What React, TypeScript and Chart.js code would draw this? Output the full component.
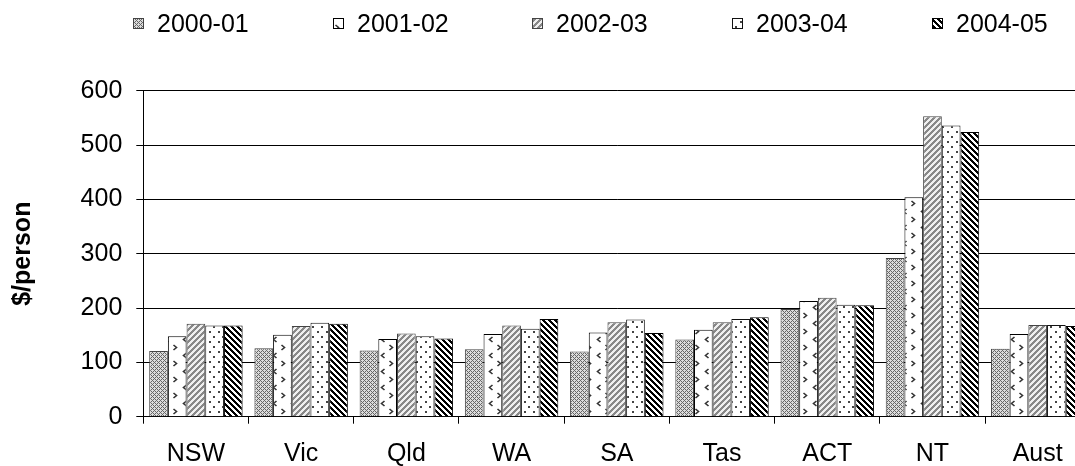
import React, { useEffect, useRef } from "react";
import { Chart, registerables } from "chart.js";

Chart.register(...registerables);

const categories = ["NSW", "Vic", "Qld", "WA", "SA", "Tas", "ACT", "NT", "Aust"];
const seriesLabels = ["2000-01", "2001-02", "2002-03", "2003-04", "2004-05"];
const s2000 = [121, 126, 122, 124, 120, 142, 198, 292, 125];
const s2001 = [148, 151, 143, 152, 155, 160, 213, 404, 152];
const s2002 = [171, 167, 153, 168, 174, 174, 219, 553, 169];
const s2003 = [168, 173, 148, 162, 179, 180, 206, 536, 169];
const s2004 = [168, 171, 144, 180, 154, 183, 205, 524, 167];
const yTicks = [0, 100, 200, 300, 400, 500, 600];

const FONT = '"Liberation Sans", Arial, sans-serif';

function makePattern(
  w: number,
  h: number,
  draw: (g: CanvasRenderingContext2D) => void
): CanvasPattern | string {
  const c = document.createElement("canvas");
  c.width = w;
  c.height = h;
  const g = c.getContext("2d")!;
  draw(g);
  const p = g.createPattern(c, "repeat");
  return p || "#ccc";
}

function buildPatterns() {
  const p1 = makePattern(4, 4, (g) => {
    g.fillStyle = "#dcdcdc";
    g.fillRect(0, 0, 4, 4);
    g.fillStyle = "#666";
    for (let x = 0; x < 4; x++)
      for (let y = 0; y < 4; y++) {
        if ((x + y) % 4 === 0 || ((x - y) % 4 + 4) % 4 === 0) g.fillRect(x, y, 1, 1);
      }
  });
  const p2 = makePattern(18, 16, (g) => {
    g.fillStyle = "#ffffff";
    g.fillRect(0, 0, 18, 16);
    g.strokeStyle = "#333";
    g.lineWidth = 1.6;
    g.beginPath();
    g.moveTo(6.5, 1);
    g.lineTo(3.5, 3.5);
    g.lineTo(6.5, 6);
    g.stroke();
    g.beginPath();
    g.moveTo(11.5, 9);
    g.lineTo(14.5, 11.5);
    g.lineTo(11.5, 14);
    g.stroke();
  });
  const p3 = makePattern(6, 6, (g) => {
    g.fillStyle = "#efefef";
    g.fillRect(0, 0, 6, 6);
    g.fillStyle = "#888";
    for (let x = 0; x < 6; x++)
      for (let y = 0; y < 6; y++) {
        if ((x + y) % 6 < 3) g.fillRect(x, y, 1, 1);
      }
  });
  const p4 = makePattern(9, 10, (g) => {
    g.fillStyle = "#ffffff";
    g.fillRect(0, 0, 9, 10);
    g.fillStyle = "#444";
    g.fillRect(2, 1, 2, 2);
    g.fillRect(6, 6, 2, 2);
  });
  const p5 = makePattern(6, 6, (g) => {
    g.fillStyle = "#ffffff";
    g.fillRect(0, 0, 6, 6);
    g.fillStyle = "#000";
    for (let x = 0; x < 6; x++)
      for (let y = 0; y < 6; y++) {
        if ((((x - y) % 6) + 6) % 6 < 3) g.fillRect(x, y, 1, 1);
      }
  });
  return [p1, p2, p3, p4, p5];
}

const borderColors = ["#444", "#000", "#444", "#111", "#000"];

const LEGEND_X0 = 133;
const LEGEND_STEP = 199.7;

const legendPlugin = {
  id: "patternLegend",
  afterDraw(chart: any) {
    const ctx = chart.ctx as CanvasRenderingContext2D;
    ctx.save();
    ctx.font = `25px ${FONT}`;
    ctx.textBaseline = "middle";
    ctx.textAlign = "left";
    chart.data.datasets.forEach((ds: any, i: number) => {
      const x = Math.round(LEGEND_X0 + i * LEGEND_STEP);
      ctx.fillStyle = ds.backgroundColor;
      ctx.fillRect(x, 18, 11, 11);
      ctx.strokeStyle = ds.borderColor;
      ctx.lineWidth = 1;
      ctx.strokeRect(x + 0.5, 18.5, 10, 10);
      ctx.fillStyle = "#000";
      ctx.fillText(ds.label, x + 24, 25);
    });
    ctx.restore();
  },
};

export default function App() {
  const ref = useRef<HTMLCanvasElement | null>(null);

  useEffect(() => {
    if (!ref.current) return;
    const patterns = buildPatterns();
    const seriesData = [s2000, s2001, s2002, s2003, s2004];
    const chart = new Chart(ref.current, {
      type: "bar",
      data: {
        labels: categories,
        datasets: seriesData.map((d, i) => ({
          label: seriesLabels[i],
          data: d,
          backgroundColor: patterns[i] as any,
          borderColor: borderColors[i],
          borderWidth: 1,
          categoryPercentage: 0.888,
          barPercentage: 1.0,
        })),
      },
      options: {
        responsive: false,
        animation: false,
        devicePixelRatio: 1,
        layout: { padding: { top: 90.7, right: 9.7, left: 0, bottom: 0 } },
        plugins: {
          legend: { display: false },
          tooltip: { enabled: false },
        },
        scales: {
          x: {
            grid: {
              display: true,
              drawOnChartArea: false,
              drawTicks: true,
              tickLength: 7,
              offset: true,
              color: "#000",
            },
            border: { display: true, color: "#000", width: 1 },
            ticks: {
              color: "#000",
              font: { family: FONT, size: 25 },
              padding: 15,
              maxRotation: 0,
              autoSkip: false,
            },
            afterFit: (scale: any) => {
              scale.height = 49.3;
            },
          },
          y: {
            min: 0,
            max: 600,
            afterBuildTicks: (scale: any) => {
              scale.ticks = yTicks.map((v) => ({ value: v }));
            },
            grid: {
              color: "#000",
              drawTicks: true,
              tickLength: 7,
              lineWidth: 1,
            },
            border: { display: true, color: "#000", width: 1 },
            ticks: {
              color: "#000",
              font: { family: FONT, size: 25 },
              padding: 14,
            },
            title: {
              display: true,
              text: "$/person",
              color: "#000",
              font: { family: FONT, size: 25, weight: "bold" },
              padding: { top: 8, bottom: 0 },
            },
            afterFit: (scale: any) => {
              scale.width = 143.3;
            },
          },
        },
      },
      plugins: [legendPlugin],
    });
    return () => chart.destroy();
  }, []);

  return (
    <div
      style={{
        position: "fixed",
        left: 0,
        top: 0,
        width: 1075,
        height: 466,
        overflow: "hidden",
        background: "#fff",
      }}
    >
      <canvas ref={ref} width={1100} height={466} style={{ display: "block" }} />
    </div>
  );
}
